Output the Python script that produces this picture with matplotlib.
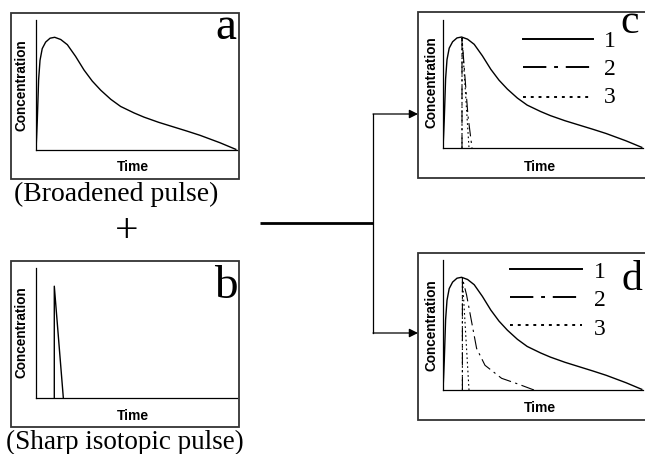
import matplotlib
matplotlib.use('Agg')
import matplotlib.pyplot as plt
from matplotlib.patches import Rectangle

# curve 1: broadened pulse (time 0..100, concentration 0..1)
t_broad = [0, 0.3, 0.65, 1.3, 2.0, 3.1, 4.8, 7.0, 9.3, 12.3, 15.6, 19.7, 23.9, 28.0,
           32.2, 37.2, 42.1, 48.8, 53.7, 61, 68.3, 75, 81.6, 91.5, 99.4]
c_broad = [0, 0.1, 0.23, 0.54, 0.69, 0.78, 0.83, 0.86, 0.867, 0.85, 0.81, 0.72, 0.615, 0.53,
           0.46, 0.39, 0.335, 0.285, 0.253, 0.213, 0.178, 0.146, 0.113, 0.056, 0.005]

# sharp isotopic pulse (panel b)
t_sharp = [9.1, 9.1, 13.6]
c_sharp = [0, 0.86, 0]

# panel c responses 2 and 3
t_c2 = [9.5, 9.5, 11, 12.5, 14.5]
c_c2 = [0, 0.86, 0.55, 0.25, 0]
t_c3 = [9.5, 9.5, 13]
c_c3 = [0, 0.86, 0]

# panel d responses 2 and 3
t_d2 = [9.7, 9.7, 11.8, 14.3, 16.8, 21, 29.3, 37.7, 45.5]
c_d2 = [0, 0.86, 0.73, 0.525, 0.32, 0.19, 0.09, 0.045, 0]
t_d3 = [9.7, 9.7, 13]
c_d3 = [0, 0.86, 0]

legend_labels = ['1', '2', '3']
panel_letters = ['a', 'b', 'c', 'd']

W, H = 645, 454
fig = plt.figure(figsize=(W / 100, H / 100), dpi=100)

# overlay in pixel coords for boxes, arrows and captions
ov = fig.add_axes([0, 0, 1, 1])
ov.set_xlim(0, W)
ov.set_ylim(H, 0)
ov.axis('off')

serif = 'Liberation Serif'
sans = 'Liberation Sans'

def box(x0, y0, x1, y1):
    ov.add_patch(Rectangle((x0, y0), x1 - x0, y1 - y0, fill=False,
                           edgecolor='#333333', lw=1.3))

def plot_axes(x0, y0, x1, y1):
    ax = fig.add_axes([x0 / W, 1 - y1 / H, (x1 - x0) / W, (y1 - y0) / H])
    ax.set_facecolor('none')
    ax.set_xlim(0, 100)
    ax.set_ylim(0, 1)
    for s in ['top', 'right']:
        ax.spines[s].set_visible(False)
    for s in ['left', 'bottom']:
        ax.spines[s].set_linewidth(0.9)
    ax.set_xticks([])
    ax.set_yticks([])
    return ax

def labels(xc, yc, xt, yt):
    ov.text(xc, yc, 'Concentration', rotation=90, ha='center', va='center',
            family=sans, fontweight='bold', fontsize=9.8)
    ov.text(xt, yt, 'Time', ha='center', va='center',
            family=sans, fontweight='bold', fontsize=10)

dash_dot = (0, (12, 4, 2, 4))
dotted = (0, (1.5, 2.5))

# panel a
box(11, 13, 239, 179)
ax = plot_axes(36, 20, 237, 150)
ax.plot(t_broad, c_broad, color='k', lw=1.0)
labels(22, 85, 133, 167)
ov.text(226, 39, panel_letters[0], family=serif, fontsize=34, ha='center', va='baseline')
ov.text(116.5, 201, '(Broadened pulse)', family=serif, fontsize=20, ha='center', va='baseline')
ov.text(127, 242, '+', family=serif, fontsize=30, ha='center', va='baseline')

# panel b
box(11, 261, 239, 427)
ax = plot_axes(36, 268, 237, 398)
ax.plot(t_sharp, c_sharp, color='k', lw=1.0)
labels(22, 332, 133, 416)
ov.text(226, 298, panel_letters[1], family=serif, fontsize=34, ha='center', va='baseline')
ov.text(125, 449, '(Sharp isotopic pulse)', family=serif, fontsize=19.5, ha='center', va='baseline')

# panel c
box(418, 12, 646, 178)
ax = plot_axes(443, 20, 643, 148)
ax.plot(t_broad, c_broad, color='k', lw=1.0)
ax.plot(t_c2, c_c2, color='k', lw=0.8, linestyle=dash_dot)
ax.plot(t_c3, c_c3, color='k', lw=0.8, linestyle=dotted)
labels(432, 82, 540, 167)
ov.text(630, 33, panel_letters[2], family=serif, fontsize=30, ha='center', va='baseline')

# panel d
box(418, 253, 646, 420)
ax = plot_axes(443, 260, 643, 390)
ax.plot(t_broad, c_broad, color='k', lw=1.0)
ax.plot(t_d2, c_d2, color='k', lw=0.8, linestyle=dash_dot)
ax.plot(t_d3, c_d3, color='k', lw=0.8, linestyle=dotted)
labels(432, 325, 540, 408)
ov.text(632, 290, panel_letters[3], family=serif, fontsize=30, ha='center', va='baseline')

# legends drawn as line samples with serif numbers
styles = ['-', dash_dot, dotted]
for (lx0, lx1, ys, nx, nbase) in [(523, 593, [39, 67, 97], 610, [47, 75, 103]),
                                  (510, 582, [269, 297, 325], 600, [278, 306, 335])]:
    for y, st, lab, yb in zip(ys, styles, legend_labels, nbase):
        ov.plot([lx0, lx1], [y, y], color='k', lw=1.4, linestyle=st)
        ov.text(nx, yb, lab, family=serif, fontsize=17, ha='center', va='baseline')

# connector and arrows
ov.plot([260, 373], [223, 223], color='k', lw=2.0, solid_capstyle='butt')
ov.plot([373, 373], [114, 333], color='k', lw=0.9)
for y in [114, 333]:
    ov.annotate('', xy=(418, y), xytext=(373, y),
                arrowprops=dict(arrowstyle='-|>', color='k', lw=0.9,
                                mutation_scale=13, shrinkA=0, shrinkB=0))

fig.savefig('out.png', dpi=100, facecolor='white')
